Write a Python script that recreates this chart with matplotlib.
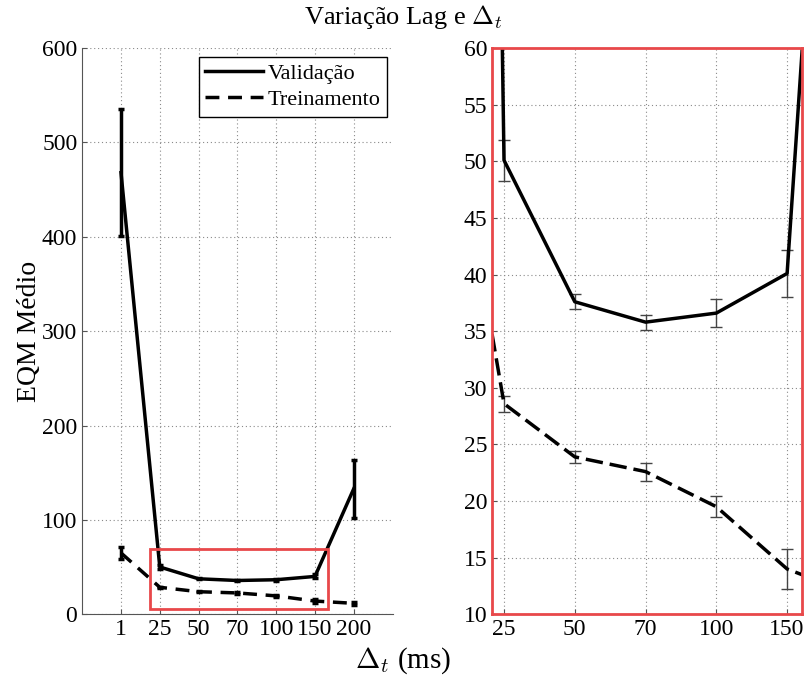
import numpy as np
import matplotlib as mpl
mpl.use('Agg')
import matplotlib.pyplot as plt
from matplotlib.patches import Rectangle

plt.rcParams['font.family'] = ['Liberation Serif', 'DejaVu Serif']
plt.rcParams['mathtext.fontset'] = 'cm'

# dados
delta_labels = ['1', '25', '50', '70', '100', '150', '200']
val_mean = [468, 50.1, 37.6, 35.8, 36.6, 40.1, 133]
val_err = [67, 1.8, 0.65, 0.65, 1.2, 2.1, 31]
train_mean = [65, 28.6, 23.9, 22.6, 19.5, 14.0, 11.6]
train_err = [6, 0.7, 0.5, 0.8, 0.95, 1.75, 1.5]
left_yticks = [0, 100, 200, 300, 400, 500, 600]
right_yticks = [10, 15, 20, 25, 30, 35, 40, 45, 50, 55, 60]

x = np.arange(1, len(delta_labels) + 1)
red = '#e8484a'
grid_kw = dict(ls=(0, (1, 2.5)), color='#8a8a8a', lw=0.8)

fig = plt.figure(figsize=(8.06, 6.78), dpi=100)
ax1 = fig.add_axes([0.102, 0.094, 0.385, 0.835])
ax2 = fig.add_axes([0.6104, 0.094, 0.3846, 0.835])

# painel esquerdo
ax1.errorbar(x, val_mean, yerr=val_err, color='black', lw=2.5, capsize=2.5,
             elinewidth=2.5, capthick=2.5, label='Validação')
ax1.errorbar(x, train_mean, yerr=train_err, color='black', lw=2.5, ls='--',
             capsize=2.5, elinewidth=2.5, capthick=2.5, dashes=(4, 2.5),
             label='Treinamento')
ax1.set_xlim(0, 8)
ax1.set_ylim(0, 600)
ax1.set_xticks(x)
ax1.set_xticklabels(delta_labels)
ax1.set_yticks(left_yticks)
ax1.spines['top'].set_visible(False)
ax1.spines['right'].set_visible(False)
for s in ['left', 'bottom']:
    ax1.spines[s].set_color('#555555')
ax1.grid(True, **grid_kw)
ax1.set_axisbelow(True)
ax1.tick_params(direction='in', labelsize=17, color='#555555')
ax1.set_ylabel('EQM Médio', fontsize=20, labelpad=0)
ax1.add_patch(Rectangle((1.74, 5.6), 4.6, 63.3, fill=False, edgecolor=red,
                        lw=2, clip_on=False, zorder=5))
handles, labels = ax1.get_legend_handles_labels()
handles = [h[0] for h in handles]
leg = ax1.legend(handles, labels, loc='upper right', fontsize=16,
                 frameon=True, fancybox=False, edgecolor='black',
                 framealpha=1, borderpad=0.3, handlelength=2.6,
                 handletextpad=0.2, labelspacing=0.25, borderaxespad=0,
                 bbox_to_anchor=(0.982, 0.985))
leg.get_frame().set_linewidth(1)

# painel direito (zoom)
ax2.errorbar(x, val_mean, yerr=val_err, color='black', lw=2.5,
             ecolor='#444444', elinewidth=1, capsize=4, capthick=1)
ax2.errorbar(x, train_mean, yerr=train_err, color='black', lw=2.5, ls='--',
             dashes=(5, 2), ecolor='#444444', elinewidth=1, capsize=4,
             capthick=1)
ax2.set_xlim(1.83, 6.21)
ax2.set_ylim(10, 60)
ax2.set_xticks(x[1:6])
ax2.set_xticklabels(delta_labels[1:6])
ax2.set_yticks(right_yticks)
for s in ax2.spines.values():
    s.set_color(red)
    s.set_linewidth(2)
ax2.grid(True, **grid_kw)
ax2.set_axisbelow(True)
ax2.tick_params(direction='in', labelsize=17, color='#555555')

fig.text(0.5, 0.975, 'Variação Lag e $\\Delta_t$', ha='center', va='center',
         fontsize=19)
fig.text(0.5, 0.025, '$\\Delta_t$ (ms)', ha='center', va='center',
         fontsize=21)

plt.savefig('out.png', dpi=100)
